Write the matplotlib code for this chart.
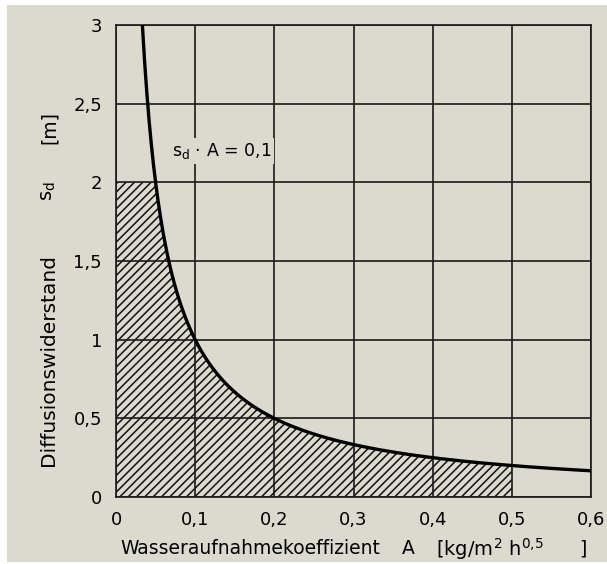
import numpy as np
import matplotlib.pyplot as plt
from matplotlib.patches import Rectangle

# Kurve s_d * A = 0,1
produkt = 0.1
x_ticks = [0, 0.1, 0.2, 0.3, 0.4, 0.5, 0.6]
x_labels = ['0', '0,1', '0,2', '0,3', '0,4', '0,5', '0,6']
y_ticks = [0, 0.5, 1, 1.5, 2, 2.5, 3]
y_labels = ['0', '0,5', '1', '1,5', '2', '2,5', '3']
grenze_A = 0.5   # max. Wasseraufnahmekoeffizient
grenze_sd = 2.0  # max. Diffusionswiderstand

papier = '#dcd9cf'
plt.rcParams['hatch.linewidth'] = 1.1

fig = plt.figure(figsize=(6.07, 5.64), dpi=100, facecolor='white')
fig.patches.append(Rectangle((7 / 607, 2 / 564), 600 / 607, 557 / 564,
                             transform=fig.transFigure, facecolor=papier,
                             edgecolor='none', zorder=-10))
ax = fig.add_axes([116 / 607, 67 / 564, 475 / 607, 472 / 564])
ax.set_zorder(1)
ax.set_facecolor(papier)

A = np.linspace(produkt / 3, 0.6, 400)
sd = produkt / A

# schraffierte Flaeche
Af = np.linspace(1e-6, grenze_A, 400)
sdf = np.minimum(grenze_sd, produkt / Af)
Af = np.concatenate([[0], Af])
sdf = np.concatenate([[grenze_sd], sdf])
ax.fill_between(Af, 0, sdf, facecolor='none', edgecolor='#111111',
                hatch='////', linewidth=0, zorder=1)

ax.plot(A, sd, color='black', linewidth=2.4, zorder=4)

ax.set_xlim(0, 0.6)
ax.set_ylim(0, 3)
ax.set_xticks(x_ticks)
ax.set_xticklabels(x_labels)
ax.set_yticks(y_ticks)
ax.set_yticklabels(y_labels)
ax.grid(True, color='#1a1a1a', linewidth=1.2, zorder=2)
ax.set_axisbelow(False)
for s in ax.spines.values():
    s.set_linewidth(1.2)
    s.set_color('#1a1a1a')
ax.tick_params(length=0, pad=10, labelsize=13)

ax.text(0.071, 2.2, r'$\mathregular{s_d}$ · A = 0,1', fontsize=12.5, va='center',
        bbox=dict(facecolor=papier, edgecolor='none', pad=2), zorder=3)

# y-Achsenbeschriftung in Teilen
fig.text(49 / 607, 1 - 360 / 564, 'Diffusionswiderstand', rotation=90,
         ha='center', va='center', fontsize=14.5)
fig.text(49 / 607, 1 - 191 / 564, r'$\mathregular{s_d}$', rotation=90,
         ha='center', va='center', fontsize=14)
fig.text(49 / 607, 1 - 127 / 564, '[m]', rotation=90,
         ha='center', va='center', fontsize=13.5)

# x-Achsenbeschriftung in Teilen
ylab = 1 - 549 / 564
fig.text(120 / 607, ylab, 'Wasseraufnahmekoeffizient', ha='left', va='center', fontsize=13.5)
fig.text(408 / 607, ylab, 'A', ha='center', va='center', fontsize=13.5)
fig.text(436 / 607, ylab, r'[kg/m$\mathregular{^2}$ h$\mathregular{^{0{,}5}}$',
         ha='left', va='center', fontsize=14)
fig.text(583 / 607, ylab, ']', ha='center', va='center', fontsize=13.5)

plt.savefig('out.png', dpi=100)
